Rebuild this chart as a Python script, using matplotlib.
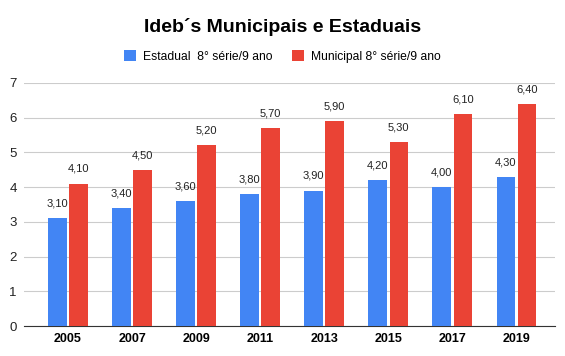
import numpy as np
import matplotlib.pyplot as plt

plt.rcParams['font.family'] = ['Liberation Sans', 'DejaVu Sans']

anos = ['2005', '2007', '2009', '2011', '2013', '2015', '2017', '2019']
estadual = [3.10, 3.40, 3.60, 3.80, 3.90, 4.20, 4.00, 4.30]
municipal = [4.10, 4.50, 5.20, 5.70, 5.90, 5.30, 6.10, 6.40]

azul = '#4285f4'
vermelho = '#ea4335'

fig = plt.figure(figsize=(5.65, 3.56), dpi=100)
ax = fig.add_axes([0.042, 0.084, 0.94, 0.683])

x = np.arange(len(anos))
w = 0.29
b1 = ax.bar(x - w / 2 - 0.02, estadual, w, color=azul, label='Estadual  8° série/9 ano', zorder=3)
b2 = ax.bar(x + w / 2 + 0.02, municipal, w, color=vermelho, label='Municipal 8° série/9 ano', zorder=3)

for bars, vals in ((b1, estadual), (b2, municipal)):
    for r, v in zip(bars, vals):
        ax.annotate(f'{v:.2f}'.replace('.', ','), (r.get_x() + r.get_width() / 2, v),
                    xytext=(0, 7), textcoords='offset points', ha='center', va='bottom',
                    fontsize=8, color='#222222')

ax.set_ylim(0, 7)
ax.set_xlim(-0.69, 7.6)
ax.set_yticks(range(8))
ax.set_xticks(x)
ax.set_xticklabels(anos, fontweight='bold', fontsize=9)
ax.tick_params(axis='y', labelsize=9.5, length=0, pad=5, colors='#222222')
ax.tick_params(axis='x', length=0, pad=5)
ax.grid(axis='y', color='#cccccc', linewidth=0.8, zorder=0)
for s in ['top', 'right', 'left']:
    ax.spines[s].set_visible(False)
ax.spines['bottom'].set_color('#333333')

fig.suptitle('Ideb\u00b4s Municipais e Estaduais', fontsize=14, fontweight='bold', y=0.95)
fig.legend(loc='center', bbox_to_anchor=(0.5, 0.842), ncol=2, frameon=False, fontsize=8.7,
           handlelength=1, handleheight=1, columnspacing=1.6, handletextpad=0.6)

fig.savefig('out.png', dpi=100)
